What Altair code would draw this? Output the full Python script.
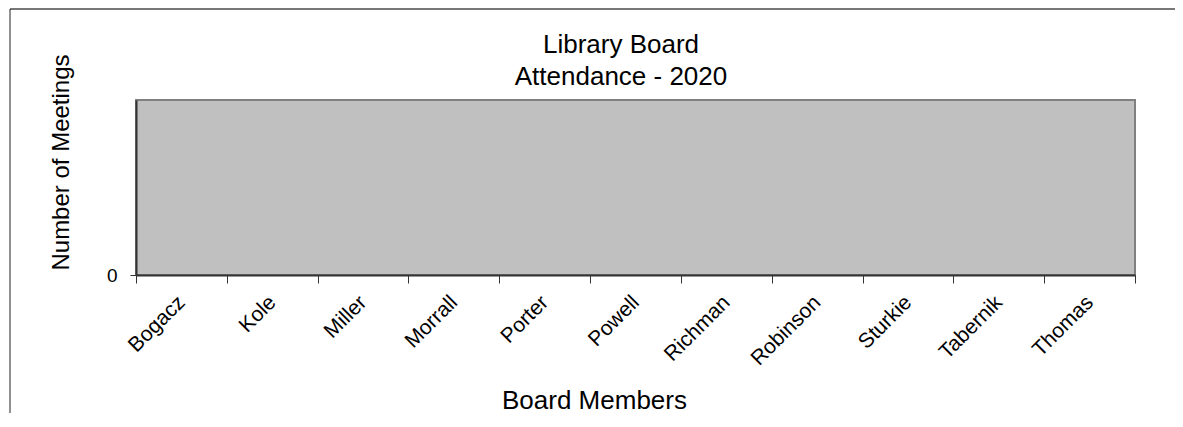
import altair as alt
import pandas as pd

members = ["Bogacz", "Kole", "Miller", "Morrall", "Porter", "Powell",
           "Richman", "Robinson", "Sturkie", "Tabernik", "Thomas"]
meetings = [0, 0, 0, 0, 0, 0, 0, 0, 0, 0, 0]
y_ticks = [0]
title_lines = ["Library Board", "Attendance - 2020"]

FONT = "Liberation Sans"

df = pd.DataFrame({"member": members, "meetings": meetings})
one = pd.DataFrame({"k": [0]})

bars = alt.Chart(df).mark_bar(color="#9999FF").encode(
    x=alt.X(
        "member:N",
        sort=members,
        scale=alt.Scale(paddingInner=0, paddingOuter=0),
        axis=alt.Axis(
            title="Board Members",
            titleFont=FONT, titleFontSize=26, titleFontWeight="normal", titleColor="black",
            titleX=458, titleY=133, titleBaseline="alphabetic", titleAlign="center",
            labelAngle=-45, labelAlign="right", labelBaseline="middle",
            labelFont=FONT, labelFontSize=21, labelColor="black", labelPadding=16,
            tickBand="extent", tickSize=8, tickColor="#333333", tickWidth=1,
            domainColor="#333333", domainWidth=2,
        ),
    ),
    y=alt.Y(
        "meetings:Q",
        scale=alt.Scale(domain=[0, 1]),
        axis=alt.Axis(
            values=y_ticks,
            title="Number of Meetings",
            titleFont=FONT, titleFontSize=24, titleFontWeight="normal", titleColor="black",
            titleX=-68, titleY=62, titleBaseline="alphabetic", titleAlign="center", titleAngle=270,
            labelFont=FONT, labelFontSize=19, labelColor="black", labelPadding=13,
            tickSize=6, tickColor="#333333", tickWidth=1,
            domainColor="#333333", domainWidth=2, grid=False,
        ),
    ),
)

title_text = alt.Chart(one).mark_text(
    text=title_lines, font=FONT, fontSize=26, color="black",
    align="center", baseline="alphabetic", lineHeight=32,
).encode(x=alt.value(485), y=alt.value(-47))

top_border = alt.Chart(one).mark_rule(color="#777777", strokeWidth=2).encode(
    x=alt.value(-126), x2=alt.value(3000), y=alt.value(-91)
)
left_border = alt.Chart(one).mark_rule(color="#222222", strokeWidth=1).encode(
    x=alt.value(-126), y=alt.value(-91), y2=alt.value(3000)
)

chart = alt.layer(bars, title_text, top_border, left_border).properties(
    width=999,
    height=175,
    padding={"left": 128, "top": 92, "right": 40, "bottom": 138},
    autosize=alt.AutoSizeParams(type="none"),
    background="white",
).configure_view(
    fill="#C0C0C0", stroke="#808080", strokeWidth=2
)

chart.save("out.html", embed_options={"renderer": "svg", "actions": False})
